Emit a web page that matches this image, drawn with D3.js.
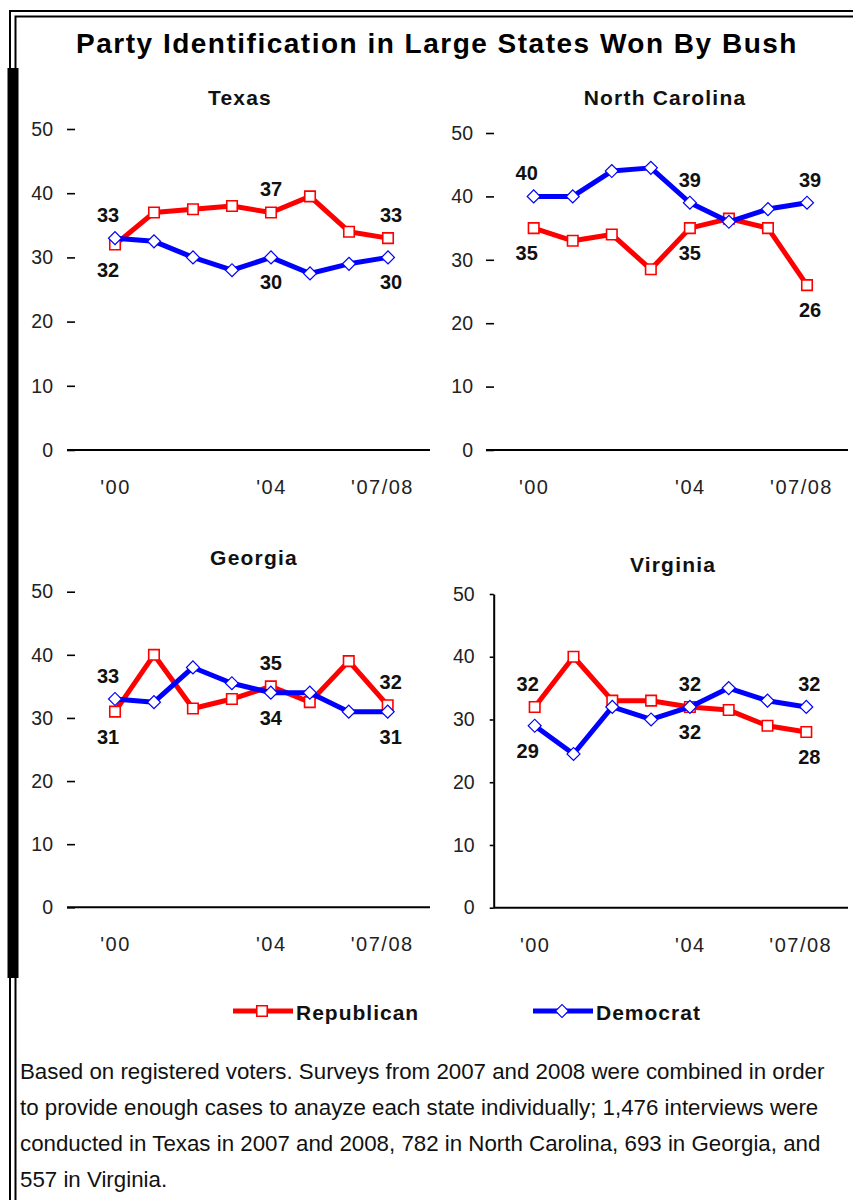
<!DOCTYPE html>
<html>
<head>
<meta charset="utf-8">
<script src="https://cdn.jsdelivr.net/npm/d3@7"></script>
<style>
  html, body { margin: 0; padding: 0; background: #fff; }
  svg { display: block; }
  text { font-family: "Liberation Sans", Arial, sans-serif; }
</style>
</head>
<body>
<svg id="chart" width="853" height="1200"></svg>
<script>
// ---- data ----
const states = ["Texas", "North Carolina", "Georgia", "Virginia"];
const periods = ["2000", "2001", "2002", "2003", "2004", "2005", "2006", "2007/08"];
const xTickIndex = [0, 4, 7];
const xTickLabels = ["'00", "'04", "'07/08"];
const yTicks = [0, 10, 20, 30, 40, 50];
const labeledIndex = [0, 4, 7];

const texasRepublican    = [32, 37, 37.5, 38, 37, 39.5, 34, 33];
const texasDemocrat      = [33, 32.5, 30, 28, 30, 27.5, 29, 30];
const ncRepublican       = [35, 33, 34, 28.5, 35, 36.5, 35, 26];
const ncDemocrat         = [40, 40, 44, 44.5, 39, 36, 38, 39];
const georgiaRepublican  = [31, 40, 31.5, 33, 35, 32.5, 39, 32];
const georgiaDemocrat    = [33, 32.5, 38, 35.5, 34, 34, 31, 31];
const virginiaRepublican = [32, 40, 33, 33, 32, 31.5, 29, 28];
const virginiaDemocrat   = [29, 24.5, 32, 30, 32, 35, 33, 32];

const seriesNames = ["Republican", "Democrat"];
const seriesColors = ["#ff0000", "#0000ff"];

const chartTitle = "Party Identification in Large States Won By Bush";
const footnoteLines = [
  "Based on registered voters. Surveys from 2007 and 2008 were combined in order",
  "to provide enough cases to anayze each state individually; 1,476 interviews were",
  "conducted in Texas in 2007 and 2008, 782 in North Carolina, 693 in Georgia, and",
  "557 in Virginia."
];

const republicanByState = [texasRepublican, ncRepublican, georgiaRepublican, virginiaRepublican];
const democratByState   = [texasDemocrat, ncDemocrat, georgiaDemocrat, virginiaDemocrat];

// ---- panel geometry ----
const frames = [
  { tx: 240, ty: 105, xFirst: 115,   xLast: 388,   yZero: 450,   yTop: 129,   axisStart: 67,    axisEnd: 430, yLine: false, pad: 14 },
  { tx: 665, ty: 105, xFirst: 533.7, xLast: 807,   yZero: 450,   yTop: 133,   axisStart: 486,   axisEnd: 848, yLine: false, pad: 13 },
  { tx: 254, ty: 565, xFirst: 115,   xLast: 387.7, yZero: 907.3, yTop: 591.7, axisStart: 67,    axisEnd: 430, yLine: false, pad: 14 },
  { tx: 673, ty: 572, xFirst: 534.7, xLast: 806.3, yZero: 907.7, yTop: 594,   axisStart: 493.7, axisEnd: 848, yLine: true,  pad: 15 }
];

const svg = d3.select("#chart");

// ---- outer frame ----
svg.append("path").attr("d", "M10,1200V11H853")
  .attr("fill", "none").attr("stroke", "#000").attr("stroke-width", 2);
svg.append("path").attr("d", "M15.5,1200V16.5H853")
  .attr("fill", "none").attr("stroke", "#000").attr("stroke-width", 2);
svg.append("rect").attr("x", 7.5).attr("y", 68).attr("width", 11).attr("height", 910).attr("fill", "#000");

// ---- main title ----
svg.append("text")
  .attr("x", 437).attr("y", 53)
  .attr("text-anchor", "middle")
  .style("font-size", "28px").style("font-weight", "bold").style("letter-spacing", "1.5px")
  .text(chartTitle);

const squareSym = d3.symbol().type(d3.symbolSquare).size(110);
const diamondSym = d3.symbol().type(d3.symbolSquare).size(84);

function drawMarker(sel, k) {
  if (k === 0) {
    sel.attr("d", squareSym()).attr("fill", "#fff").attr("stroke", seriesColors[0]).attr("stroke-width", 1.6);
  } else {
    sel.attr("d", diamondSym()).attr("fill", "#fff").attr("stroke", seriesColors[1]).attr("stroke-width", 1.2);
  }
}

states.forEach((state, i) => {
  const f = frames[i];
  const g = svg.append("g").attr("class", "panel");
  const x = d3.scaleLinear().domain([0, periods.length - 1]).range([f.xFirst, f.xLast]);
  const y = d3.scaleLinear().domain([0, 50]).range([f.yZero, f.yTop]);

  // panel title
  g.append("text")
    .attr("x", f.tx).attr("y", f.ty)
    .attr("text-anchor", "middle")
    .style("font-size", "21px").style("font-weight", "bold").style("letter-spacing", "1.2px")
    .attr("fill", "#111")
    .text(state);

  // y axis
  const yAxis = d3.axisLeft(y)
    .tickValues(yTicks)
    .tickSizeInner(f.yLine ? 4 : -8)
    .tickSizeOuter(0)
    .tickPadding(f.pad);
  const ya = g.append("g").attr("transform", `translate(${f.axisStart},0)`).call(yAxis);
  if (!f.yLine) ya.select(".domain").remove();
  ya.select(".domain").attr("stroke", "#000").attr("stroke-width", 2);
  ya.selectAll(".tick line").attr("stroke", "#000").attr("stroke-width", 1.6);
  ya.selectAll(".tick text")
    .style("font-size", "19.5px").style("font-family", "'Liberation Sans', Arial, sans-serif")
    .attr("fill", "#222");

  // x axis
  g.append("line")
    .attr("x1", f.axisStart).attr("x2", f.axisEnd)
    .attr("y1", y(0)).attr("y2", y(0))
    .attr("stroke", "#000").attr("stroke-width", 2);
  const xAxis = d3.axisBottom(x)
    .tickValues(xTickIndex)
    .tickFormat((d, j) => xTickLabels[j])
    .tickSize(0)
    .tickPadding(30);
  const xa = g.append("g").attr("transform", `translate(0,${y(0)})`).call(xAxis);
  xa.select(".domain").remove();
  xa.selectAll(".tick text")
    .style("font-size", "20px").style("letter-spacing", "1.5px")
    .style("font-family", "'Liberation Sans', Arial, sans-serif")
    .attr("fill", "#222")
    .attr("dx", (d, j) => j === xTickIndex.length - 1 ? -6 : 0);

  const series = [republicanByState[i], democratByState[i]];
  const line = d3.line().x((d, j) => x(j)).y(d => y(d));

  series.forEach((vals, k) => {
    g.append("path")
      .datum(vals)
      .attr("d", line)
      .attr("fill", "none")
      .attr("stroke", seriesColors[k])
      .attr("stroke-width", 5)
      .attr("stroke-linejoin", "round");
    g.selectAll(`.m${k}`)
      .data(vals)
      .join("path")
      .attr("class", `m${k}`)
      .attr("transform", (d, j) => `translate(${x(j)},${y(d)})` + (k === 1 ? " rotate(45)" : ""))
      .call(sel => drawMarker(sel, k));
  });

  // value labels: the higher series above its point, the lower one below
  labeledIndex.forEach((idx, li) => {
    const rep = series[0][idx], dem = series[1][idx];
    const upperK = dem >= rep ? 1 : 0;
    const dx = li === 0 ? -7 : (li === labeledIndex.length - 1 ? 3 : 0);
    [0, 1].forEach(k => {
      const v = series[k][idx];
      const above = k === upperK;
      g.append("text")
        .attr("x", x(idx) + dx)
        .attr("y", y(v) + (above ? -16 : 32))
        .attr("text-anchor", "middle")
        .style("font-size", "20px").style("font-weight", "bold")
        .attr("fill", "#111")
        .text(d3.format("d")(v));
    });
  });
});

// ---- legend ----
const legendX = [233, 533];
const legendY = 1011;
const lg = svg.append("g").attr("class", "legend");
seriesNames.forEach((name, k) => {
  const x0 = legendX[k];
  lg.append("line")
    .attr("x1", x0).attr("x2", x0 + 60)
    .attr("y1", legendY).attr("y2", legendY)
    .attr("stroke", seriesColors[k]).attr("stroke-width", 5);
  lg.append("path")
    .attr("transform", `translate(${x0 + 29},${legendY})` + (k === 1 ? " rotate(45)" : ""))
    .call(sel => drawMarker(sel, k));
  lg.append("text")
    .attr("x", x0 + 63).attr("y", legendY + 9)
    .style("font-size", "21px").style("font-weight", "bold").style("letter-spacing", "1px")
    .attr("fill", "#111")
    .text(name);
});

// ---- footnote ----
svg.append("g").attr("class", "footnote")
  .selectAll("text")
  .data(footnoteLines)
  .join("text")
  .attr("x", 20)
  .attr("y", (d, j) => 1079 + j * 36)
  .style("font-size", "22.3px")
  .attr("fill", "#111")
  .text(d => d);
</script>
</body>
</html>
